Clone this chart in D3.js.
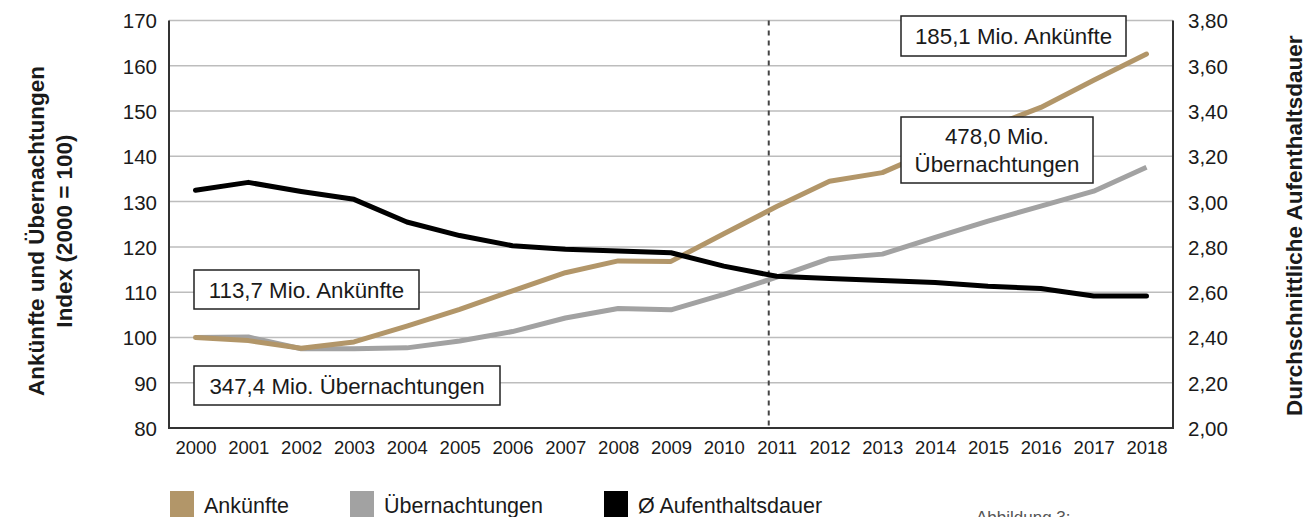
<!DOCTYPE html>
<html>
<head>
<meta charset="utf-8">
<script src="https://cdn.jsdelivr.net/npm/d3@7/dist/d3.min.js"></script>
<style>
  body { margin: 0; background: #fff; overflow: hidden; }
  text { font-family: "Liberation Sans", Arial, Helvetica, sans-serif; fill: #1a1a1a; }
</style>
</head>
<body>
<script>
// data
var years = [2000,2001,2002,2003,2004,2005,2006,2007,2008,2009,2010,2011,2012,2013,2014,2015,2016,2017,2018];
var ankuenfte = [100,99.3,97.6,99,102.5,106.2,110.3,114.3,116.9,116.8,122.9,128.9,134.5,136.4,141.5,146.3,150.8,156.8,162.6];
var uebernachtungen = [100,100.1,97.5,97.5,97.7,99.2,101.3,104.3,106.4,106.1,109.5,113.3,117.4,118.4,122.1,125.7,129.0,132.3,137.6];
var dauer = [3.05,3.085,3.045,3.01,2.91,2.85,2.805,2.79,2.782,2.774,2.715,2.67,2.66,2.652,2.643,2.626,2.616,2.583,2.583];
var leftTicks = [80,90,100,110,120,130,140,150,160,170];
var rightTicks = [2.0,2.2,2.4,2.6,2.8,3.0,3.2,3.4,3.6,3.8];
var series = ["Ankünfte","Übernachtungen","Ø Aufenthaltsdauer"];
var colors = ["#b29669","#a2a2a2","#000000"];
var notes = [
  {lines:["185,1 Mio. Ankünfte"], x0:901, x1:1126, y0:16, y1:56},
  {lines:["478,0 Mio.","Übernachtungen"], x0:901, x1:1093, y0:117, y1:183},
  {lines:["113,7 Mio. Ankünfte"], x0:194, x1:419, y0:270, y1:309},
  {lines:["347,4 Mio. Übernachtungen"], x0:194, x1:500, y0:366, y1:405}
];

var W = 1307, H = 517;
var plot = {left:169, right:1173, top:20.5, bottom:428};

var svg = d3.select("body").append("svg").attr("width", W).attr("height", H);

var x = d3.scaleLinear().domain([2000,2018]).range([195.5,1146.5]);
var yL = d3.scaleLinear().domain([80,170]).range([plot.bottom, plot.top]);
var yR = d3.scaleLinear().domain([2,3.8]).range([plot.bottom, plot.top]);

var de = d3.formatLocale({decimal:",", thousands:".", grouping:[3], currency:["","€"]});

// gridlines
svg.append("g").selectAll("line").data(leftTicks.slice(1)).enter().append("line")
  .attr("x1", plot.left).attr("x2", plot.right)
  .attr("y1", function(d){ return yL(d); }).attr("y2", function(d){ return yL(d); })
  .attr("stroke", "#bdbdbd").attr("stroke-width", 1.5);

// left ticks
var gL = svg.append("g").attr("transform", "translate(" + (plot.left - 12) + ",0)")
  .call(d3.axisLeft(yL).tickValues(leftTicks).tickSize(0).tickPadding(0));
gL.select(".domain").remove();
gL.selectAll("text").style("font-size", "20.5px").style("font-family", "Liberation Sans, Arial, sans-serif").attr("fill", "#1a1a1a").attr("dy", "0.36em");

// right ticks
var gR = svg.append("g").attr("transform", "translate(" + (plot.right + 15) + ",0)")
  .call(d3.axisRight(yR).tickValues(rightTicks).tickSize(0).tickPadding(0).tickFormat(de.format(".2f")));
gR.select(".domain").remove();
gR.selectAll("text").style("font-size", "20.5px").style("font-family", "Liberation Sans, Arial, sans-serif").attr("fill", "#1a1a1a").attr("dy", "0.36em");

// x labels
var gX = svg.append("g").attr("transform", "translate(0," + (plot.bottom + 8) + ")")
  .call(d3.axisBottom(x).tickValues(years).tickSize(0).tickPadding(0).tickFormat(d3.format("d")));
gX.select(".domain").remove();
gX.selectAll("text").style("font-size", "18.5px").style("font-family", "Liberation Sans, Arial, sans-serif").attr("fill", "#1a1a1a").attr("dy", "0.95em");

// frame: left, bottom, right
svg.append("path")
  .attr("d", "M" + plot.left + "," + plot.top + "V" + plot.bottom + "H" + plot.right + "V" + plot.top)
  .attr("fill", "none").attr("stroke", "#333").attr("stroke-width", 2);

// dashed marker line just before 2011
svg.append("line")
  .attr("x1", x(2010.85)).attr("x2", x(2010.85))
  .attr("y1", plot.top).attr("y2", plot.bottom)
  .attr("stroke", "#444").attr("stroke-width", 2).attr("stroke-dasharray", "5,5");

// lines
var lineL = d3.line().x(function(d, i){ return x(years[i]); }).y(function(d){ return yL(d); });
var lineR = d3.line().x(function(d, i){ return x(years[i]); }).y(function(d){ return yR(d); });

svg.append("path").datum(uebernachtungen).attr("d", lineL)
  .attr("fill", "none").attr("stroke", colors[1]).attr("stroke-width", 5).attr("stroke-linejoin", "round");
svg.append("path").datum(ankuenfte).attr("d", lineL)
  .attr("fill", "none").attr("stroke", colors[0]).attr("stroke-width", 5).attr("stroke-linejoin", "round").attr("stroke-linecap", "round");
svg.append("path").datum(dauer).attr("d", lineR)
  .attr("fill", "none").attr("stroke", colors[2]).attr("stroke-width", 5).attr("stroke-linejoin", "round").attr("stroke-linecap", "round");

// annotation boxes
var nb = svg.append("g").selectAll("g").data(notes).enter().append("g");
nb.append("rect")
  .attr("x", function(d){ return d.x0; }).attr("y", function(d){ return d.y0; })
  .attr("width", function(d){ return d.x1 - d.x0; }).attr("height", function(d){ return d.y1 - d.y0; })
  .attr("fill", "#fff").attr("stroke", "#222").attr("stroke-width", 1.5);
nb.each(function(d){
  var g = d3.select(this);
  var cy = (d.y0 + d.y1) / 2, lh = 28;
  d.lines.forEach(function(t, i){
    g.append("text")
      .attr("x", (d.x0 + d.x1) / 2)
      .attr("y", cy + (i - (d.lines.length - 1) / 2) * lh)
      .attr("dy", "0.36em")
      .attr("text-anchor", "middle")
      .style("font-size", "22.3px")
      .text(t);
  });
});

// axis titles
svg.append("text")
  .attr("transform", "translate(44,231) rotate(-90)")
  .attr("text-anchor", "middle").style("font-size", "22.5px").style("font-weight", "bold")
  .text("Ankünfte und Übernachtungen");
svg.append("text")
  .attr("transform", "translate(72,231) rotate(-90)")
  .attr("text-anchor", "middle").style("font-size", "22.5px").style("font-weight", "bold")
  .text("Index (2000 = 100)");
svg.append("text")
  .attr("transform", "translate(1302,416) rotate(-90)")
  .attr("text-anchor", "start").style("font-size", "22.5px").style("font-weight", "bold")
  .text("Durchschnittliche Aufenthaltsdauer");

// legend
var legX = [170, 350, 604];
var leg = svg.append("g").selectAll("g").data(series).enter().append("g")
  .attr("transform", function(d, i){ return "translate(" + legX[i] + ",491)"; });
leg.append("rect").attr("width", 24).attr("height", 30)
  .attr("fill", function(d, i){ return colors[i]; });
leg.append("text").attr("x", 34).attr("y", 22)
  .style("font-size", "21.5px").text(function(d){ return d; });

// caption, cut off at the bottom edge like the source
svg.append("text").attr("x", 976).attr("y", 523)
  .style("font-size", "17px").style("fill", "#555")
  .text("Abbildung 3:");
</script>
</body>
</html>
